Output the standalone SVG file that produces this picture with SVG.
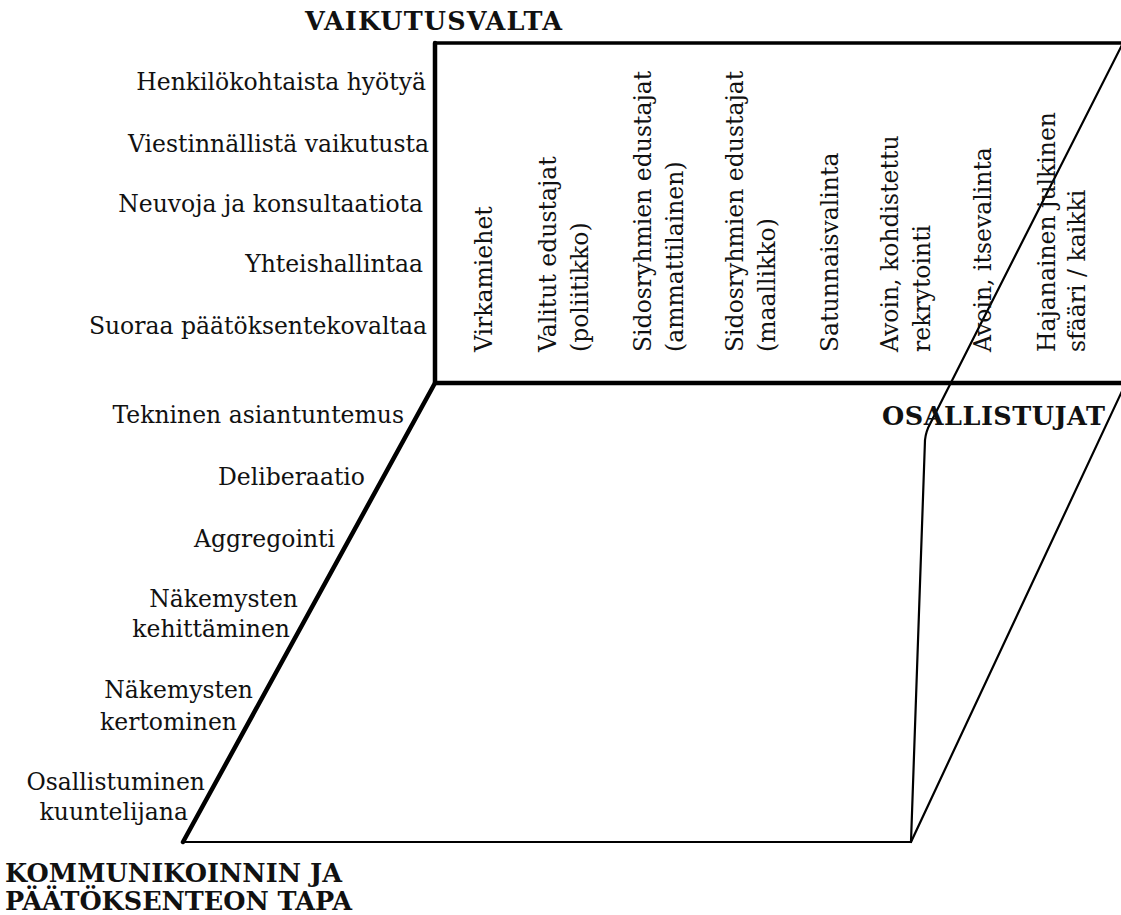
<svg xmlns="http://www.w3.org/2000/svg" width="1121" height="915" viewBox="0 0 1121 915">
<style>
  .lbl { font-family: "DejaVu Serif", "Liberation Serif", serif; font-size: 23.5px; fill: #111; }
  .end { text-anchor: end; }
  .ttl { font-family: "DejaVu Serif", "Liberation Serif", serif; font-size: 25.5px; font-weight: bold; fill: #111; }
  .thick { stroke: #000; stroke-width: 4.5; fill: none; stroke-linecap: round; stroke-linejoin: round; }
  .thin { stroke: #000; stroke-width: 2.2; fill: none; stroke-linecap: round; stroke-linejoin: round; }
</style>
<rect width="1121" height="915" fill="#fff"/>
<g id="connectors">
  <line class="thin" x1="435" y1="43" x2="1121" y2="43" style="stroke-width:3.5"/>
  <polyline class="thick" points="435,43 435,383 1121,383"/>
  <line class="thick" x1="435" y1="383" x2="183" y2="842"/>
  <line class="thin" x1="183" y1="842" x2="911" y2="842"/>
  <path class="thin" d="M911,842 L925,440 Q926,431 930,424 L1124,41"/>
  <line class="thin" x1="911" y1="842" x2="1123" y2="389"/>
</g>
<g id="title-vaikutusvalta"><text class="ttl" x="305" y="30" textLength="257" lengthAdjust="spacing">VAIKUTUSVALTA</text></g>
<g id="title-osallistujat"><text class="ttl" x="882" y="425" textLength="223" lengthAdjust="spacing">OSALLISTUJAT</text></g>
<g id="title-kommunikointi">
  <text class="ttl" x="5" y="882" textLength="337" lengthAdjust="spacing">KOMMUNIKOINNIN JA</text>
  <text class="ttl" x="5" y="910" textLength="347" lengthAdjust="spacing">PÄÄTÖKSENTEON TAPA</text>
</g>
<g id="vaikutusvalta-levels">
  <text class="lbl end" x="426" y="90">Henkilökohtaista hyötyä</text>
  <text class="lbl end" x="429" y="152">Viestinnällistä vaikutusta</text>
  <text class="lbl end" x="423" y="212">Neuvoja ja konsultaatiota</text>
  <text class="lbl end" x="423" y="272">Yhteishallintaa</text>
  <text class="lbl end" x="427" y="334">Suoraa päätöksentekovaltaa</text>
</g>
<g id="kommunikointi-levels">
  <text class="lbl end" x="404" y="423">Tekninen asiantuntemus</text>
  <text class="lbl end" x="365" y="485">Deliberaatio</text>
  <text class="lbl end" x="335" y="547">Aggregointi</text>
  <text class="lbl end" x="298" y="607">Näkemysten</text>
  <text class="lbl end" x="290" y="637">kehittäminen</text>
  <text class="lbl end" x="253" y="698">Näkemysten</text>
  <text class="lbl end" x="237" y="730">kertominen</text>
  <text class="lbl end" x="205" y="790">Osallistuminen</text>
  <text class="lbl end" x="188" y="820">kuuntelijana</text>
</g>
<g id="osallistujat-types">
  <text class="lbl" transform="translate(492,352) rotate(-90)">Virkamiehet</text>
  <text class="lbl" transform="translate(556,352) rotate(-90)">Valitut edustajat</text>
  <text class="lbl" transform="translate(588,352) rotate(-90)">(poliitikko)</text>
  <text class="lbl" transform="translate(651,352) rotate(-90)">Sidosryhmien edustajat</text>
  <text class="lbl" transform="translate(683,352) rotate(-90)">(ammattilainen)</text>
  <text class="lbl" transform="translate(743,352) rotate(-90)">Sidosryhmien edustajat</text>
  <text class="lbl" transform="translate(775,352) rotate(-90)">(maallikko)</text>
  <text class="lbl" transform="translate(838,352) rotate(-90)">Satunnaisvalinta</text>
  <text class="lbl" transform="translate(898,352) rotate(-90)">Avoin, kohdistettu</text>
  <text class="lbl" transform="translate(930,352) rotate(-90)">rekrytointi</text>
  <text class="lbl" transform="translate(991,352) rotate(-90)">Avoin, itsevalinta</text>
  <text class="lbl" transform="translate(1055,352) rotate(-90)">Hajanainen julkinen</text>
  <text class="lbl" transform="translate(1085,352) rotate(-90)">sfääri / kaikki</text>
</g>
</svg>
